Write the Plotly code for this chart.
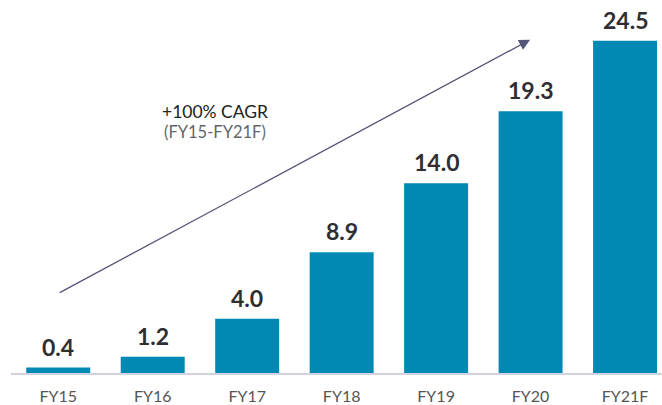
import plotly.graph_objects as go

categories = ["FY15", "FY16", "FY17", "FY18", "FY19", "FY20", "FY21F"]
values = [0.4, 1.2, 4.0, 8.9, 14.0, 19.3, 24.5]
value_labels = ["0.4", "1.2", "4.0", "8.9", "14.0", "19.3", "24.5"]
cagr_title = "+100% CAGR"
cagr_sub = "(FY15-FY21F)"

PX_PER_UNIT = 13.63  # vertical scale used only to place the note text

fig = go.Figure(go.Bar(
    x=list(range(len(categories))),
    y=values,
    marker=dict(color="#0089B2", line=dict(width=0)),
    width=0.677,
    hoverinfo="skip",
))

for i, (v, lab) in enumerate(zip(values, value_labels)):
    fig.add_annotation(
        x=i, y=v, xref="x", yref="y", text="<b>%s</b>" % lab, showarrow=False,
        yanchor="bottom", yshift=5,
        font=dict(family="Lato", size=23, color="#2E2E33"),
    )

fig.add_annotation(
    x=4.995, y=24.58, ax=0.0, ay=5.87,
    xref="x", yref="y", axref="x", ayref="y",
    text="", showarrow=True, arrowhead=2, arrowsize=1.7, arrowwidth=1.3,
    arrowcolor="#55557A",
)
fig.add_annotation(
    x=1.661, y=(375 - 112) / PX_PER_UNIT, xref="x", yref="y",
    text=cagr_title, showarrow=False,
    font=dict(family="Lato", size=17.5, color="#222222"),
)
fig.add_annotation(
    x=1.661, y=(375 - 133) / PX_PER_UNIT, xref="x", yref="y",
    text=cagr_sub, showarrow=False,
    font=dict(family="Lato", size=16.5, color="#666666"),
)

fig.update_layout(
    width=662, height=405,
    margin=dict(l=11, r=0, t=0, b=30),
    plot_bgcolor="white", paper_bgcolor="white",
    showlegend=False,
    xaxis=dict(
        range=[-0.5, 6.391],
        tickmode="array",
        tickvals=list(range(len(categories))),
        ticktext=categories,
        tickfont=dict(family="Lato", size=16, color="#555555"),
        ticklabelstandoff=8,
        showline=True, linecolor="#D2D2E0", linewidth=1.5,
        showgrid=False, zeroline=False, ticks="",
    ),
    yaxis=dict(
        range=[0, 375 / PX_PER_UNIT],
        visible=False, showgrid=False, zeroline=False,
    ),
)

fig.write_html("out.html", config={"displayModeBar": False},
               post_script="document.body.style.margin='0';")
